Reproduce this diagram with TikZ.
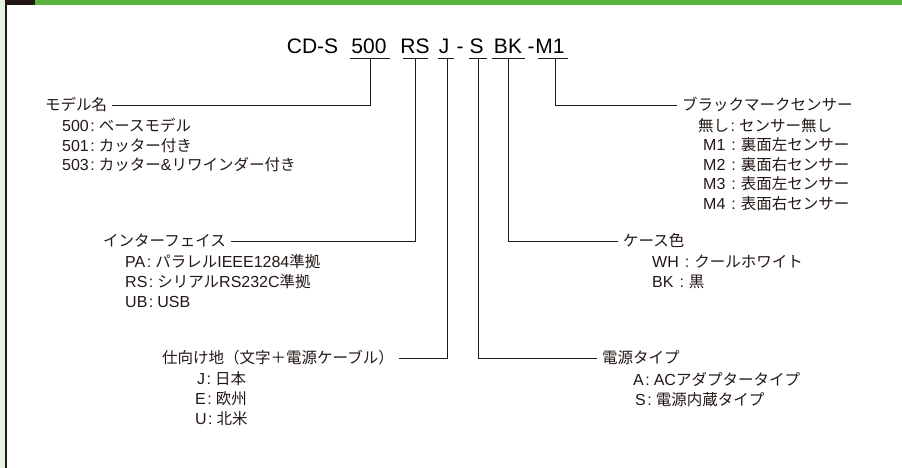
\documentclass[tikz,border=0pt]{standalone}
\usepackage{fontspec}
\newfontfamily\jpf{Noto Sans CJK JP}
\newfontfamily\ltf{Liberation Sans}
\newcommand\LT[1]{{\ltf\fontsize{16}{20}\selectfont #1}}
\newcommand\CO{\hspace{1.5pt}\LT{:}\hspace{4pt}}
\newcommand\COW{\hspace{6pt}\LT{:}\hspace{5pt}}
\definecolor{ink}{HTML}{231815}
\definecolor{barg}{HTML}{5BB43B}
\definecolor{paleg}{HTML}{E5F2DE}
\begin{document}
\begin{tikzpicture}[x=1pt,y=-1pt,
  lbl/.style={font=\jpf\fontsize{15.5}{20}\selectfont, text=ink, inner xsep=5pt, inner ysep=0pt, text height=13.6pt, text depth=1.9pt, anchor=west},
  code/.style={font=\ltf\fontsize{21}{21}\selectfont, text=black, inner sep=0pt, anchor=base},
  wire/.style={draw=ink, line width=0.9pt},
]
\useasboundingbox (0,0) rectangle (902,468);
\fill[white] (0,0) rectangle (902,468);
% frame decorations
\fill[paleg] (0,0) rectangle (5.5,468);
\fill[ink] (5.3,0) rectangle (6.8,468);
\fill[ink] (5.3,0) rectangle (35,4.7);
\fill[barg] (35,0) rectangle (902,4.7);

% code
\node[code] (cds) at (312.5,53.5) {CD-S};
\node[code] (c500) at (369,53.5) {500};
\node[code] (crs) at (415,53.5) {RS};
\node[code] (cj) at (444,53.5) {J};
\node[code] (cd1) at (460,53.5) {-};
\node[code] (cs) at (476.5,53.5) {S};
\node[code] (cbk) at (508,53.5) {BK};
\node[code] (cd2) at (531,53.5) {-};
\node[code] (cm1) at (550,53.5) {M1};

% underline points
\coordinate (u500) at (370,58);
\coordinate (urs) at (415.5,58);
\coordinate (uj) at (447,58);
\coordinate (us) at (478,58);
\coordinate (ubk) at (508.5,58);
\coordinate (um1) at (555,58);
\draw[wire] ([xshift=-20]u500) -- ([xshift=20]u500);
\draw[wire] ([xshift=-12.5]urs) -- ([xshift=12.5]urs);
\draw[wire] ([xshift=-9]uj) -- ([xshift=7]uj);
\draw[wire] ([xshift=-9]us) -- ([xshift=9]us);
\draw[wire] ([xshift=-16.5]ubk) -- ([xshift=16.5]ubk);
\draw[wire] ([xshift=-17]um1) -- ([xshift=13]um1);

% model
\node[lbl] (model) at (40,105) {モデル名};
\node[lbl] (m500) at (57,126) {\LT{500}\CO ベースモデル};
\node[lbl] (m501) at (57,145.5) {\LT{501}\CO カッター付き};
\node[lbl] (m503) at (57,165) {\LT{503}\CO カッター\LT{\&}リワインダー付き};
\draw[wire] (u500) |- (model.east);

% interface
\node[lbl] (intf) at (98,241) {インターフェイス};
\node[lbl] (ipa) at (120,262) {\LT{PA}\CO パラレル\LT{IEEE1284}準拠};
\node[lbl] (irs) at (120,282) {\LT{RS}\CO シリアル\LT{RS232C}準拠};
\node[lbl] (iub) at (120,302) {\LT{UB}\CO\LT{USB}};
\draw[wire] (urs) |- (intf.east);

% destination
\node[lbl] (dest) at (157,358) {仕向け地（文字＋電源ケーブル）};
\node[lbl] (dj) at (192,379) {\LT{J}\CO 日本};
\node[lbl] (de) at (190,399) {\LT{E}\CO 欧州};
\node[lbl] (du) at (190,419) {\LT{U}\CO 北米};
\draw[wire] (uj) |- (dest.east);

% power
\node[lbl] (pow) at (597,358) {電源タイプ};
\node[lbl] (pa) at (628,380) {\LT{A}\CO\LT{AC}アダプタータイプ};
\node[lbl] (ps) at (630,399.5) {\LT{S}\CO 電源内蔵タイプ};
\draw[wire] (us) |- (pow.west);

% case colour
\node[lbl] (case) at (618,241) {ケース色};
\node[lbl] (cwh) at (647,262) {\LT{WH}\COW クールホワイト};
\node[lbl] (cbkl) at (647,282) {\LT{BK}\COW 黒};
\draw[wire] (ubk) |- (case.west);

% black mark sensor
\node[lbl] (bm) at (677,105) {ブラックマークセンサー};
\node[lbl] (b0) at (693,125.5) {無し\CO センサー無し};
\node[lbl] (b1) at (698,145) {\LT{M1}\COW 裏面左センサー};
\node[lbl] (b2) at (698,164.5) {\LT{M2}\COW 裏面右センサー};
\node[lbl] (b3) at (698,184) {\LT{M3}\COW 表面左センサー};
\node[lbl] (b4) at (698,203.5) {\LT{M4}\COW 表面右センサー};
\draw[wire] (um1) |- (bm.west);
\end{tikzpicture}
\end{document}
